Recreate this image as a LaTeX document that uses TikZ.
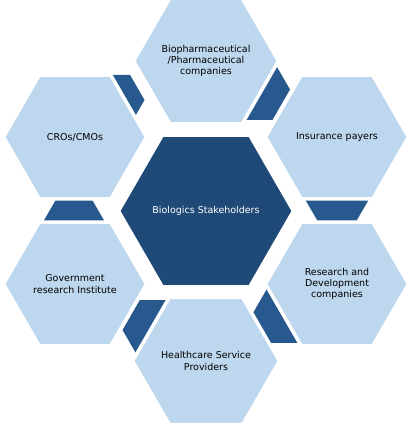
\documentclass[tikz,border=0pt]{standalone}
\usepackage{fontspec}
\setmainfont{DejaVu Sans}
\usetikzlibrary{shapes.geometric}
\definecolor{hexlight}{HTML}{BDD7EE}
\definecolor{hexcenter}{HTML}{1F4A77}
\definecolor{hexaccent}{HTML}{27598F}
\begin{document}
\begin{tikzpicture}[x=1pt,y=-1pt,
  hexbase/.style={regular polygon, regular polygon sides=6, inner sep=0pt, outer sep=0pt},
  outerhex/.style={hexbase, minimum size=143pt, fill=hexlight, draw=white, line width=3.5pt,
    text=black, font=\fontsize{9.5}{11.2}\selectfont, align=center},
  centerhex/.style={hexbase, minimum size=175pt, fill=hexcenter, draw=white, line width=3.5pt,
    text=white, font=\fontsize{9.5}{11.2}\selectfont, align=center},
  accenthex/.style={hexbase, fill=hexaccent, draw=none}
]
\fill[white] (0,0) rectangle (408,423);
\useasboundingbox (0,0) rectangle (408,423);
% accent hexagons (partly hidden by the outer hexagons)
\node[accenthex, minimum size=70pt] (d1) at (255,89.5) {};
\node[accenthex, minimum size=70pt] (d2) at (337,194) {};
\node[accenthex, minimum size=69pt] (d3) at (287.5,313) {};
\node[accenthex, minimum size=69pt] (d4) at (157,330) {};
\node[accenthex, minimum size=70pt] (d5) at (74,229) {};
\node[accenthex, minimum size=58pt] (d6) at (115.5,100) {};
% outer hexagons
\node[outerhex] (top) at (206,61) {Biopharmaceutical\\/Pharmaceutical\\companies};
\node[outerhex] (ur) at (337,137) {Insurance payers};
\node[outerhex] (lr) at (337,284) {Research and\\Development\\companies};
\node[outerhex] (bot) at (206,361) {Healthcare Service\\Providers};
\node[outerhex] (ll) at (75,284) {Government\\research Institute};
\node[outerhex] (ul) at (75,137) {CROs/CMOs};
% centre hexagon
\node[centerhex] (center) at (206,211) {Biologics Stakeholders};
\end{tikzpicture}
\end{document}
